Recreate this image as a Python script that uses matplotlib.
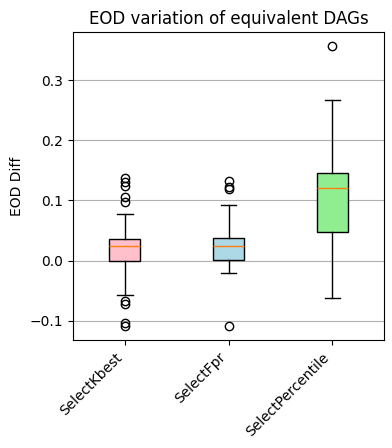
import matplotlib
matplotlib.use("Agg")
import matplotlib.pyplot as plt

# ── Values ─────────────────────────────────────────────────────────────────────
labels = ["SelectKbest", "SelectFpr", "SelectPercentile"]
q1 = [-0.001, 0.001, 0.048]
med = [0.024, 0.024, 0.121]
q3 = [0.036, 0.038, 0.146]
whislo = [-0.057, -0.021, -0.062]
whishi = [0.078, 0.093, 0.268]
fliers = [
    [0.138, 0.131, 0.124, 0.106, 0.097, -0.067, -0.073, -0.104, -0.109],
    [0.132, 0.122, 0.119, -0.109],
    [0.357],
]
colors = ["pink", "lightblue", "lightgreen"]

stats = []
for i in range(len(labels)):
    stats.append(dict(label=labels[i], q1=q1[i], med=med[i], q3=q3[i],
                      whislo=whislo[i], whishi=whishi[i], fliers=fliers[i]))

fig, ax = plt.subplots(figsize=(3.92, 4.48), dpi=100)
fig.subplots_adjust(left=0.186, right=0.98, top=0.928, bottom=0.24)

bp = ax.bxp(stats, patch_artist=True)
for patch, c in zip(bp["boxes"], colors):
    patch.set_facecolor(c)

ax.set_ylim(-0.133, 0.38)
ax.set_title("EOD variation of equivalent DAGs")
ax.set_ylabel("EOD Diff")
ax.yaxis.grid(True)
plt.setp(ax.get_xticklabels(), rotation=45, ha="right")

plt.savefig("out.png")
